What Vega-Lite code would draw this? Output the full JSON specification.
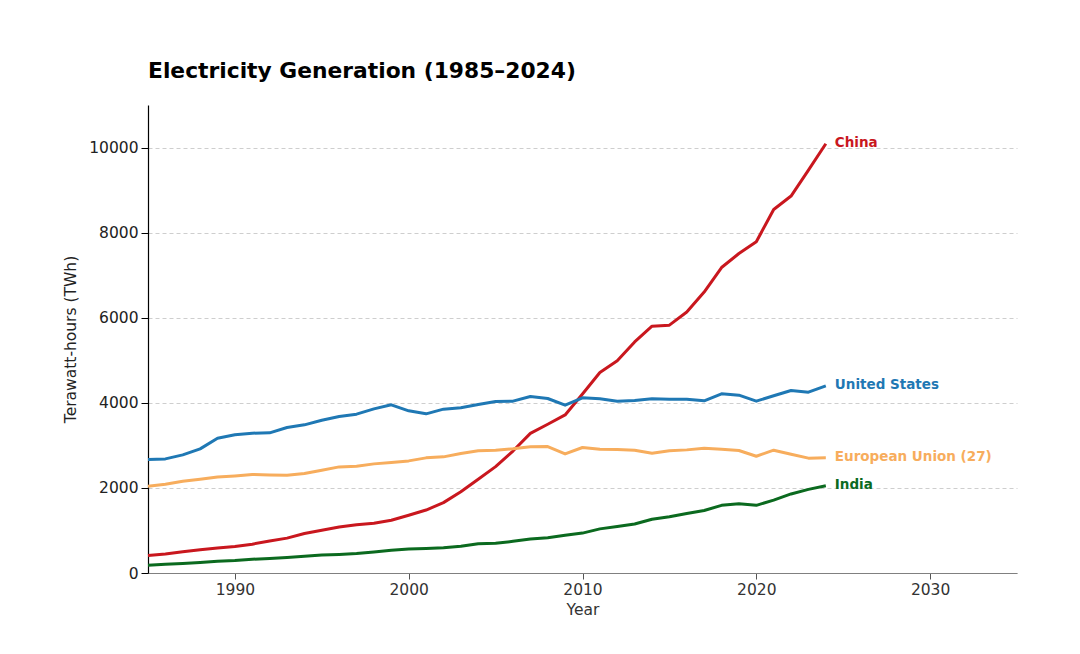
{
  "$schema": "https://vega.github.io/schema/vega-lite/v6.json",
  "autosize": {"type": "none"},
  "padding": {"left": 148, "top": 105, "right": 63, "bottom": 81},
  "width": 869,
  "height": 468,
  "background": "white",
  "title": {
    "text": "Electricity Generation (1985–2024)",
    "anchor": "start",
    "frame": "group",
    "font": "DejaVu Sans",
    "fontSize": 21.8,
    "fontWeight": "bold",
    "color": "#000000",
    "offset": 22
  },
  "config": {
    "view": {"stroke": null},
    "font": "DejaVu Sans"
  },
  "datasets": {
    "gen": [
      {"year": 1985, "country": "China", "value": 411},
      {"year": 1986, "country": "China", "value": 449},
      {"year": 1987, "country": "China", "value": 497},
      {"year": 1988, "country": "China", "value": 545},
      {"year": 1989, "country": "China", "value": 585},
      {"year": 1990, "country": "China", "value": 621},
      {"year": 1991, "country": "China", "value": 678},
      {"year": 1992, "country": "China", "value": 754},
      {"year": 1993, "country": "China", "value": 820},
      {"year": 1994, "country": "China", "value": 928},
      {"year": 1995, "country": "China", "value": 1007},
      {"year": 1996, "country": "China", "value": 1081},
      {"year": 1997, "country": "China", "value": 1134},
      {"year": 1998, "country": "China", "value": 1167},
      {"year": 1999, "country": "China", "value": 1239},
      {"year": 2000, "country": "China", "value": 1356},
      {"year": 2001, "country": "China", "value": 1480},
      {"year": 2002, "country": "China", "value": 1654},
      {"year": 2003, "country": "China", "value": 1911},
      {"year": 2004, "country": "China", "value": 2204},
      {"year": 2005, "country": "China", "value": 2500},
      {"year": 2006, "country": "China", "value": 2866},
      {"year": 2007, "country": "China", "value": 3282},
      {"year": 2008, "country": "China", "value": 3496},
      {"year": 2009, "country": "China", "value": 3715},
      {"year": 2010, "country": "China", "value": 4208},
      {"year": 2011, "country": "China", "value": 4713},
      {"year": 2012, "country": "China", "value": 4988},
      {"year": 2013, "country": "China", "value": 5432},
      {"year": 2014, "country": "China", "value": 5800},
      {"year": 2015, "country": "China", "value": 5825},
      {"year": 2016, "country": "China", "value": 6133},
      {"year": 2017, "country": "China", "value": 6604},
      {"year": 2018, "country": "China", "value": 7180},
      {"year": 2019, "country": "China", "value": 7510},
      {"year": 2020, "country": "China", "value": 7785},
      {"year": 2021, "country": "China", "value": 8545},
      {"year": 2022, "country": "China", "value": 8860},
      {"year": 2023, "country": "China", "value": 9470},
      {"year": 2024, "country": "China", "value": 10090},
      {"year": 1985, "country": "United States", "value": 2670},
      {"year": 1986, "country": "United States", "value": 2682},
      {"year": 1987, "country": "United States", "value": 2776},
      {"year": 1988, "country": "United States", "value": 2918},
      {"year": 1989, "country": "United States", "value": 3169},
      {"year": 1990, "country": "United States", "value": 3249},
      {"year": 1991, "country": "United States", "value": 3286},
      {"year": 1992, "country": "United States", "value": 3294},
      {"year": 1993, "country": "United States", "value": 3420},
      {"year": 1994, "country": "United States", "value": 3482},
      {"year": 1995, "country": "United States", "value": 3592},
      {"year": 1996, "country": "United States", "value": 3678},
      {"year": 1997, "country": "United States", "value": 3733},
      {"year": 1998, "country": "United States", "value": 3858},
      {"year": 1999, "country": "United States", "value": 3953},
      {"year": 2000, "country": "United States", "value": 3812},
      {"year": 2001, "country": "United States", "value": 3741},
      {"year": 2002, "country": "United States", "value": 3851},
      {"year": 2003, "country": "United States", "value": 3882},
      {"year": 2004, "country": "United States", "value": 3960},
      {"year": 2005, "country": "United States", "value": 4031},
      {"year": 2006, "country": "United States", "value": 4039},
      {"year": 2007, "country": "United States", "value": 4149},
      {"year": 2008, "country": "United States", "value": 4102},
      {"year": 2009, "country": "United States", "value": 3945},
      {"year": 2010, "country": "United States", "value": 4118},
      {"year": 2011, "country": "United States", "value": 4094},
      {"year": 2012, "country": "United States", "value": 4039},
      {"year": 2013, "country": "United States", "value": 4055},
      {"year": 2014, "country": "United States", "value": 4094},
      {"year": 2015, "country": "United States", "value": 4086},
      {"year": 2016, "country": "United States", "value": 4086},
      {"year": 2017, "country": "United States", "value": 4047},
      {"year": 2018, "country": "United States", "value": 4212},
      {"year": 2019, "country": "United States", "value": 4180},
      {"year": 2020, "country": "United States", "value": 4039},
      {"year": 2021, "country": "United States", "value": 4165},
      {"year": 2022, "country": "United States", "value": 4290},
      {"year": 2023, "country": "United States", "value": 4251},
      {"year": 2024, "country": "United States", "value": 4400},
      {"year": 1985, "country": "European Union (27)", "value": 2039},
      {"year": 1986, "country": "European Union (27)", "value": 2086},
      {"year": 1987, "country": "European Union (27)", "value": 2157},
      {"year": 1988, "country": "European Union (27)", "value": 2204},
      {"year": 1989, "country": "European Union (27)", "value": 2259},
      {"year": 1990, "country": "European Union (27)", "value": 2282},
      {"year": 1991, "country": "European Union (27)", "value": 2314},
      {"year": 1992, "country": "European Union (27)", "value": 2306},
      {"year": 1993, "country": "European Union (27)", "value": 2298},
      {"year": 1994, "country": "European Union (27)", "value": 2337},
      {"year": 1995, "country": "European Union (27)", "value": 2416},
      {"year": 1996, "country": "European Union (27)", "value": 2494},
      {"year": 1997, "country": "European Union (27)", "value": 2510},
      {"year": 1998, "country": "European Union (27)", "value": 2565},
      {"year": 1999, "country": "European Union (27)", "value": 2596},
      {"year": 2000, "country": "European Union (27)", "value": 2635},
      {"year": 2001, "country": "European Union (27)", "value": 2706},
      {"year": 2002, "country": "European Union (27)", "value": 2730},
      {"year": 2003, "country": "European Union (27)", "value": 2808},
      {"year": 2004, "country": "European Union (27)", "value": 2871},
      {"year": 2005, "country": "European Union (27)", "value": 2887},
      {"year": 2006, "country": "European Union (27)", "value": 2918},
      {"year": 2007, "country": "European Union (27)", "value": 2965},
      {"year": 2008, "country": "European Union (27)", "value": 2973},
      {"year": 2009, "country": "European Union (27)", "value": 2800},
      {"year": 2010, "country": "European Union (27)", "value": 2949},
      {"year": 2011, "country": "European Union (27)", "value": 2910},
      {"year": 2012, "country": "European Union (27)", "value": 2902},
      {"year": 2013, "country": "European Union (27)", "value": 2887},
      {"year": 2014, "country": "European Union (27)", "value": 2816},
      {"year": 2015, "country": "European Union (27)", "value": 2871},
      {"year": 2016, "country": "European Union (27)", "value": 2894},
      {"year": 2017, "country": "European Union (27)", "value": 2934},
      {"year": 2018, "country": "European Union (27)", "value": 2910},
      {"year": 2019, "country": "European Union (27)", "value": 2879},
      {"year": 2020, "country": "European Union (27)", "value": 2745},
      {"year": 2021, "country": "European Union (27)", "value": 2887},
      {"year": 2022, "country": "European Union (27)", "value": 2792},
      {"year": 2023, "country": "European Union (27)", "value": 2700},
      {"year": 2024, "country": "European Union (27)", "value": 2706},
      {"year": 1985, "country": "India", "value": 184},
      {"year": 1986, "country": "India", "value": 203},
      {"year": 1987, "country": "India", "value": 223},
      {"year": 1988, "country": "India", "value": 245},
      {"year": 1989, "country": "India", "value": 274},
      {"year": 1990, "country": "India", "value": 293},
      {"year": 1991, "country": "India", "value": 323},
      {"year": 1992, "country": "India", "value": 340},
      {"year": 1993, "country": "India", "value": 363},
      {"year": 1994, "country": "India", "value": 391},
      {"year": 1995, "country": "India", "value": 422},
      {"year": 1996, "country": "India", "value": 437},
      {"year": 1997, "country": "India", "value": 461},
      {"year": 1998, "country": "India", "value": 495},
      {"year": 1999, "country": "India", "value": 534},
      {"year": 2000, "country": "India", "value": 562},
      {"year": 2001, "country": "India", "value": 577},
      {"year": 2002, "country": "India", "value": 596},
      {"year": 2003, "country": "India", "value": 631},
      {"year": 2004, "country": "India", "value": 690},
      {"year": 2005, "country": "India", "value": 699},
      {"year": 2006, "country": "India", "value": 744},
      {"year": 2007, "country": "India", "value": 798},
      {"year": 2008, "country": "India", "value": 831},
      {"year": 2009, "country": "India", "value": 885},
      {"year": 2010, "country": "India", "value": 938},
      {"year": 2011, "country": "India", "value": 1037},
      {"year": 2012, "country": "India", "value": 1095},
      {"year": 2013, "country": "India", "value": 1151},
      {"year": 2014, "country": "India", "value": 1263},
      {"year": 2015, "country": "India", "value": 1322},
      {"year": 2016, "country": "India", "value": 1400},
      {"year": 2017, "country": "India", "value": 1469},
      {"year": 2018, "country": "India", "value": 1590},
      {"year": 2019, "country": "India", "value": 1625},
      {"year": 2020, "country": "India", "value": 1590},
      {"year": 2021, "country": "India", "value": 1714},
      {"year": 2022, "country": "India", "value": 1858},
      {"year": 2023, "country": "India", "value": 1965},
      {"year": 2024, "country": "India", "value": 2050}
    ]
  },
  "data": {"name": "gen"},
  "encoding": {
    "x": {
      "field": "year",
      "type": "quantitative",
      "scale": {"domain": [1985, 2035], "nice": false, "zero": false},
      "axis": {
        "title": "Year",
        "values": [1990, 2000, 2010, 2020, 2030],
        "format": "d",
        "grid": false,
        "domainColor": "#808080",
        "domainWidth": 1.2,
        "tickColor": "#555555",
        "tickSize": 6,
        "labelFont": "DejaVu Sans",
        "labelFontSize": 15.5,
        "labelColor": "#333333",
        "labelPadding": 3,
        "titleFont": "DejaVu Sans",
        "titleFontSize": 15.5,
        "titleFontWeight": "normal",
        "titleColor": "#333333",
        "titlePadding": 5
      }
    },
    "y": {
      "field": "value",
      "type": "quantitative",
      "scale": {"domain": [0, 11000], "nice": false},
      "axis": {
        "title": "Terawatt-hours (TWh)",
        "values": [0, 2000, 4000, 6000, 8000, 10000],
        "format": "d",
        "grid": true,
        "gridDash": [4, 3],
        "gridColor": "#c8c8c8",
        "gridWidth": 0.9,
        "domainColor": "#000000",
        "domainWidth": 1.2,
        "tickColor": "#000000",
        "tickSize": 7,
        "labelFont": "DejaVu Sans",
        "labelFontSize": 15.5,
        "labelColor": "#222222",
        "labelPadding": 3,
        "titleFont": "DejaVu Sans",
        "titleFontSize": 15.5,
        "titleFontWeight": "normal",
        "titleColor": "#222222",
        "titlePadding": 10
      }
    },
    "color": {
      "field": "country",
      "type": "nominal",
      "scale": {
        "domain": ["China", "United States", "European Union (27)", "India"],
        "range": ["#c9171e", "#1f78b4", "#f7ad5d", "#0b6a1f"]
      },
      "legend": null
    }
  },
  "layer": [
    {
      "mark": {"type": "line", "strokeWidth": 3, "strokeJoin": "round"},
      "encoding": {"detail": {"field": "country"}}
    },
    {
      "transform": [{"filter": "datum.year == 2024"}],
      "mark": {
        "type": "text",
        "align": "left",
        "baseline": "middle",
        "dx": 9,
        "dy": -1,
        "font": "DejaVu Sans",
        "fontSize": 13.5,
        "fontWeight": "bold"
      },
      "encoding": {"text": {"field": "country"}}
    }
  ]
}
